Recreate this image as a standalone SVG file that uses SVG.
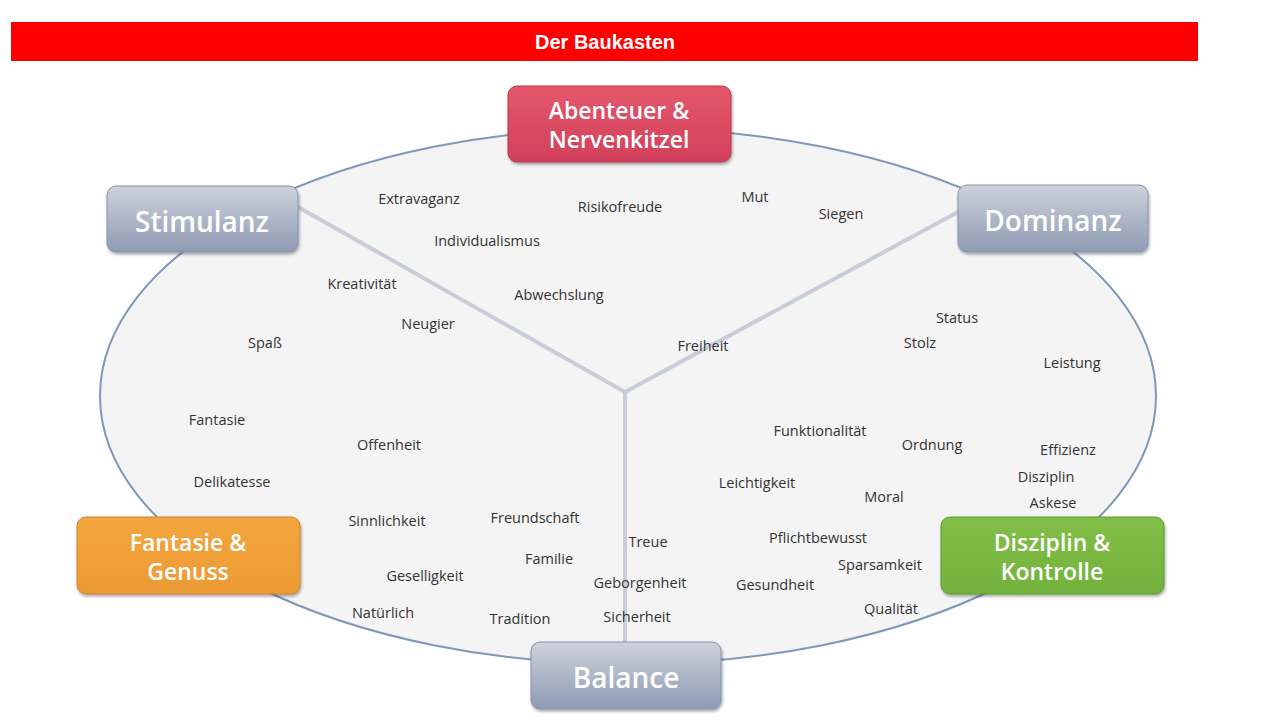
<svg xmlns="http://www.w3.org/2000/svg" width="1280" height="720" viewBox="0 0 1280 720">
<defs>
<linearGradient id="gGray" x1="0" y1="0" x2="0" y2="1">
<stop offset="0" stop-color="#cdd2dc"/><stop offset="1" stop-color="#8e9bb3"/>
</linearGradient>
<linearGradient id="gRed" x1="0" y1="0" x2="0" y2="1">
<stop offset="0" stop-color="#e4586b"/><stop offset="1" stop-color="#d2405a"/>
</linearGradient>
<linearGradient id="gOrange" x1="0" y1="0" x2="0" y2="1">
<stop offset="0" stop-color="#f3a63e"/><stop offset="1" stop-color="#ec9a34"/>
</linearGradient>
<linearGradient id="gGreen" x1="0" y1="0" x2="0" y2="1">
<stop offset="0" stop-color="#82bf47"/><stop offset="1" stop-color="#72b13d"/>
</linearGradient>
<filter id="sh" x="-10%" y="-10%" width="130%" height="140%">
<feDropShadow dx="1" dy="2" stdDeviation="1.5" flood-color="#000" flood-opacity="0.35"/>
</filter>
</defs>
<style>
.word{font-family:"Open Sans","Liberation Sans",sans-serif;font-size:14.5px;fill:#333;text-anchor:middle;dominant-baseline:central}
.nt{font-family:"Open Sans","Liberation Sans",sans-serif;fill:#fff;text-anchor:middle;dominant-baseline:central;font-weight:600}
.big{font-size:28px}
.two{font-size:23px}
.spoke{stroke:#c7cdd9;stroke-width:4;fill:none;stroke-linecap:round}
</style>
<rect width="1280" height="720" fill="#fff"/>
<rect x="11" y="22" width="1187" height="39" fill="#ff0000"/>
<text x="605" y="42" font-family="Liberation Sans, Arial, sans-serif" font-weight="bold" font-size="20" fill="#fff" text-anchor="middle" dominant-baseline="central">Der Baukasten</text>

<ellipse cx="628" cy="396" rx="528" ry="268" fill="#f4f4f4" stroke="#7f98b9" stroke-width="2"/>

<g id="connectors">
<path class="spoke" d="M298 207 L625 392"/>
<path class="spoke" d="M958 212 L625 392"/>
<path class="spoke" d="M625 392 L625 642"/>
</g>

<g id="words">
<text class="word" x="419" y="198">Extravaganz</text>
<text class="word" x="620" y="206">Risikofreude</text>
<text class="word" x="755" y="196">Mut</text>
<text class="word" x="841" y="213">Siegen</text>
<text class="word" x="487" y="240">Individualismus</text>
<text class="word" x="362" y="283">Kreativität</text>
<text class="word" x="559" y="294">Abwechslung</text>
<text class="word" x="428" y="323">Neugier</text>
<text class="word" x="265" y="342">Spaß</text>
<text class="word" x="703" y="345">Freiheit</text>
<text class="word" x="957" y="317">Status</text>
<text class="word" x="920" y="342">Stolz</text>
<text class="word" x="1072" y="362">Leistung</text>
<text class="word" x="217" y="419">Fantasie</text>
<text class="word" x="389" y="444">Offenheit</text>
<text class="word" x="820" y="430">Funktionalität</text>
<text class="word" x="932" y="444">Ordnung</text>
<text class="word" x="1068" y="449">Effizienz</text>
<text class="word" x="1046" y="476">Disziplin</text>
<text class="word" x="232" y="481">Delikatesse</text>
<text class="word" x="757" y="482">Leichtigkeit</text>
<text class="word" x="884" y="496">Moral</text>
<text class="word" x="1053" y="502">Askese</text>
<text class="word" x="387" y="520">Sinnlichkeit</text>
<text class="word" x="535" y="517">Freundschaft</text>
<text class="word" x="648" y="541">Treue</text>
<text class="word" x="818" y="537">Pflichtbewusst</text>
<text class="word" x="549" y="558">Familie</text>
<text class="word" x="880" y="564">Sparsamkeit</text>
<text class="word" x="425" y="575">Geselligkeit</text>
<text class="word" x="640" y="582">Geborgenheit</text>
<text class="word" x="775" y="584">Gesundheit</text>
<text class="word" x="383" y="612">Natürlich</text>
<text class="word" x="520" y="618">Tradition</text>
<text class="word" x="637" y="616">Sicherheit</text>
<text class="word" x="891" y="608">Qualität</text>
</g>

<g id="node-abenteuer">
<rect x="508" y="86" width="223" height="76" rx="9" fill="url(#gRed)" stroke="#b83a4e" stroke-width="1" filter="url(#sh)"/>
<text class="nt two" x="619" y="110">Abenteuer &amp;</text>
<text class="nt two" x="619" y="139">Nervenkitzel</text>
</g>
<g id="node-stimulanz">
<rect x="107" y="186" width="191" height="66" rx="9" fill="url(#gGray)" stroke="#8393ad" stroke-width="1" filter="url(#sh)"/>
<text class="nt big" x="202" y="221">Stimulanz</text>
</g>
<g id="node-dominanz">
<rect x="958" y="185" width="190" height="67" rx="9" fill="url(#gGray)" stroke="#8393ad" stroke-width="1" filter="url(#sh)"/>
<text class="nt big" x="1053" y="220">Dominanz</text>
</g>
<g id="node-fantasie">
<rect x="77" y="517" width="223" height="77" rx="9" fill="url(#gOrange)" stroke="#c98230" stroke-width="1" filter="url(#sh)"/>
<text class="nt two" x="188" y="542">Fantasie &amp;</text>
<text class="nt two" x="188" y="571">Genuss</text>
</g>
<g id="node-disziplin">
<rect x="941" y="517" width="223" height="77" rx="9" fill="url(#gGreen)" stroke="#5f9a35" stroke-width="1" filter="url(#sh)"/>
<text class="nt two" x="1052" y="542">Disziplin &amp;</text>
<text class="nt two" x="1052" y="571">Kontrolle</text>
</g>
<g id="node-balance">
<rect x="531" y="642" width="190" height="67" rx="9" fill="url(#gGray)" stroke="#8393ad" stroke-width="1" filter="url(#sh)"/>
<text class="nt big" x="626" y="677">Balance</text>
</g>
</svg>
